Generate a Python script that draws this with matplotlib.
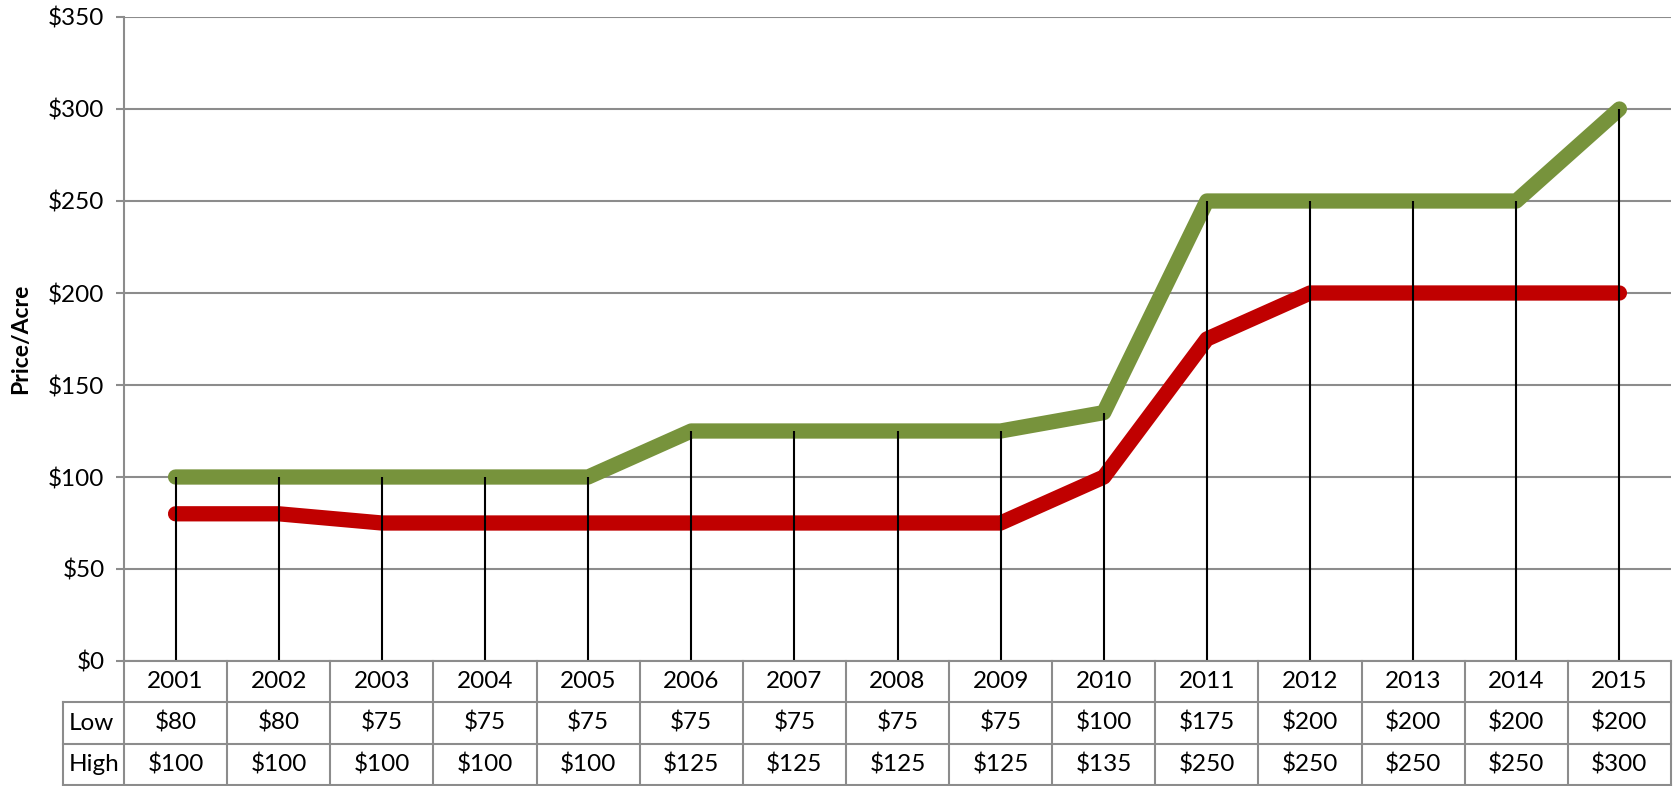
import matplotlib
matplotlib.use("Agg")
import matplotlib.pyplot as plt
from matplotlib.lines import Line2D

plt.rcParams['font.family'] = ['Lato', 'DejaVu Sans']

years = ['2001', '2002', '2003', '2004', '2005', '2006', '2007', '2008',
         '2009', '2010', '2011', '2012', '2013', '2014', '2015']
low = [80, 80, 75, 75, 75, 75, 75, 75, 75, 100, 175, 200, 200, 200, 200]
high = [100, 100, 100, 100, 100, 125, 125, 125, 125, 135, 250, 250, 250, 250, 300]
yticks = [0, 50, 100, 150, 200, 250, 300, 350]
row_labels = ['Low', 'High']

W, H = 1679, 786
fig = plt.figure(figsize=(W / 100, H / 100), dpi=100)

L, R, T, B = 124, 1671, 17, 661
ax = fig.add_axes([L / W, 1 - B / H, (R - L) / W, (B - T) / H])

GRID = '#8c8c8c'
FS = 17.5
x = list(range(len(years)))

ax.set_xlim(-0.5, len(years) - 0.5)
ax.set_ylim(0, 350)
ax.set_yticks(yticks)
ax.set_yticklabels([f'${v}' for v in yticks], fontsize=FS)
ax.set_xticks([])
ax.tick_params(axis='y', length=6, width=1.5, color=GRID, pad=8)
ax.grid(axis='y', color=GRID, linewidth=1.5, zorder=0)
ax.set_axisbelow(True)
for s in ['top', 'right', 'bottom']:
    ax.spines[s].set_visible(False)
ax.spines['left'].set_color(GRID)
ax.spines['left'].set_linewidth(1.5)

ax.plot(x, high, color='#77933C', linewidth=11, solid_capstyle='round',
        solid_joinstyle='round', zorder=3)
ax.plot(x, low, color='#C00000', linewidth=11, solid_capstyle='round',
        solid_joinstyle='round', zorder=3)
ax.vlines(x, 0, [max(a, b) for a, b in zip(low, high)], color='black',
          linewidth=1.5, zorder=4)

ax.set_ylabel('Price/Acre', fontsize=16.5, fontweight='bold', labelpad=12)

# data table
TB = 785
tab = fig.add_axes([L / W, 1 - TB / H, (R - L) / W, (TB - B) / H])
tab.set_xlim(-0.5, len(years) - 0.5)
tab.set_ylim(3, 0)
tab.axis('off')
colw = (R - L) / len(years)
xl = -0.5 - (L - 63) / colw
n = len(years)
lw = 1.5
tab.add_line(Line2D([-0.5, n - 0.5], [0, 0], color=GRID, lw=lw, clip_on=False))
for r in [1, 2, 3]:
    tab.add_line(Line2D([xl, n - 0.5], [r, r], color=GRID, lw=lw, clip_on=False))
for i in range(n + 1):
    tab.add_line(Line2D([i - 0.5, i - 0.5], [0, 3], color=GRID, lw=lw, clip_on=False))
tab.add_line(Line2D([xl, xl], [1, 3], color=GRID, lw=lw, clip_on=False))

for i, yv in enumerate(years):
    tab.text(i, 0.5, yv, ha='center', va='center', fontsize=FS)
    tab.text(i, 1.5, f'${low[i]}', ha='center', va='center', fontsize=FS)
    tab.text(i, 2.5, f'${high[i]}', ha='center', va='center', fontsize=FS)
for r, lab in enumerate(row_labels):
    tab.text(xl + 0.06, 1.5 + r, lab, ha='left', va='center', fontsize=FS)

fig.savefig('out.png', dpi=100)
